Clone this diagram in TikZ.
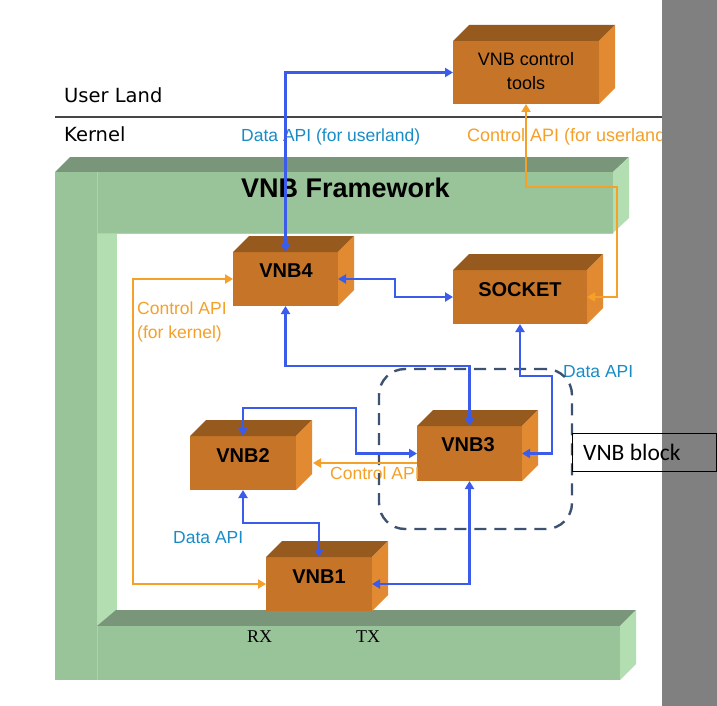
\documentclass[tikz,border=0pt]{standalone}
\usepackage{fontspec}
\setmainfont{Liberation Sans}
\newfontfamily\djfont{DejaVu Sans}
\newfontfamily\crfont{Carlito}
\newfontfamily\lsfont{Liberation Serif}
\usetikzlibrary{arrows.meta,calc}
\definecolor{gfront}{RGB}{153,195,153}
\definecolor{gtop}{RGB}{122,150,122}
\definecolor{gside}{RGB}{178,222,178}
\definecolor{gline}{RGB}{172,212,172}
\definecolor{ofront}{RGB}{198,117,40}
\definecolor{otop}{RGB}{150,90,30}
\definecolor{oside}{RGB}{226,138,50}
\definecolor{lblue}{RGB}{59,92,235}
\definecolor{tblue}{RGB}{25,140,200}
\definecolor{lorange}{RGB}{245,160,40}
\definecolor{dashc}{RGB}{60,82,112}
\definecolor{sepc}{RGB}{70,70,70}
\definecolor{grayc}{RGB}{128,128,128}
\newcommand\boxthreed[2]{%
  \fill[otop] (#1.north west) -- ++(#2,-#2) -- ($(#1.north east)+(#2,-#2)$) -- (#1.north east) -- cycle;
  \fill[oside] (#1.north east) -- ++(#2,-#2) -- ($(#1.south east)+(#2,-#2)$) -- (#1.south east) -- cycle;
}
\tikzset{
  obox/.style={fill=ofront, draw=none, inner sep=0pt, outer sep=0pt},
  boxlbl/.style={font=\fontsize{20}{24}\selectfont\bfseries, anchor=base, inner sep=0pt},
  apilbl/.style={font=\fontsize{17.5}{22}\selectfont, inner sep=0pt, anchor=base west},
  toollbl/.style={font=\fontsize{18}{22}\selectfont, inner sep=0pt, anchor=base},
  bl/.style={draw=lblue, line width=2.7pt, {Triangle[length=8pt,width=9pt]}-{Triangle[length=8pt,width=9pt]}},
  orl/.style={draw=lorange, line width=2.5pt, {Triangle[length=8pt,width=9pt]}-{Triangle[length=8pt,width=9pt]}},
  orone/.style={draw=lorange, line width=2.5pt, -{Triangle[length=8pt,width=9pt]}},
}
\begin{document}
\begin{tikzpicture}[x=1pt,y=-1pt]
\useasboundingbox (0,0) rectangle (717,706);
\fill[white] (0,0) rectangle (717,706);
% green framework
\fill[gtop] (55,172) -- (70,157) -- (629,157) -- (613,172) -- cycle;
\fill[gfront] (55,172) rectangle (97,680);
\fill[gfront] (97,172) rectangle (613,233);
\fill[gside] (613,172) -- (629,157) -- (629,218) -- (613,233) -- cycle;
\fill[gside] (97,233) rectangle (117,626);
\fill[gtop] (97,626) -- (116,610) -- (636,610) -- (620,626) -- cycle;
\fill[gfront] (97,626) rectangle (620,680);
\fill[gside] (620,626) -- (636,610) -- (636,664) -- (620,680) -- cycle;
\draw[gline, line width=0.8pt] (97,172) -- (97,233) -- (613,233);
\draw[gline, line width=0.8pt] (97,626) -- (97,680);
% separator
\draw[sepc, line width=1.5pt] (55,117) -- (662,117);
% texts
\node[font=\djfont\fontsize{19.5}{23}\selectfont, anchor=base west, inner sep=0pt] (user) at (64,103) {User Land};
\node[font=\djfont\fontsize{19.5}{23}\selectfont, anchor=base west, inner sep=0pt] (kern) at (64,141) {Kernel};
\node[apilbl, text=tblue] (dapiu) at (241,141) {Data API (for userland)};
\node[apilbl, text=lorange, font=\fontsize{18}{22}\selectfont] (capiu) at (467,141) {Control API (for userland)};
\node[font=\fontsize{27}{32}\selectfont\bfseries, anchor=base west, inner sep=0pt] (fw) at (241,197) {VNB Framework};
% boxes
\node[obox, minimum width=146pt, minimum height=63pt] (ctl) at (526,72.5) {};
\boxthreed{ctl}{16}
\node[toollbl] (ctla) at (526,66) {VNB control};
\node[toollbl] (ctlb) at (526,90) {tools};
\node[obox, minimum width=105pt, minimum height=54pt] (vnb4) at (285.5,279) {};
\boxthreed{vnb4}{16}
\node[boxlbl] (l4) at (286,277) {VNB4};
\node[obox, minimum width=134pt, minimum height=54pt] (sock) at (520,297) {};
\boxthreed{sock}{16}
\node[boxlbl] (ls) at (520,296) {SOCKET};
\node[obox, minimum width=105pt, minimum height=55pt] (vnb3) at (469.5,453.5) {};
\boxthreed{vnb3}{16}
\node[boxlbl] (l3) at (468,451) {VNB3};
\node[obox, minimum width=106pt, minimum height=54pt] (vnb2) at (243,463) {};
\boxthreed{vnb2}{16}
\node[boxlbl] (l2) at (243,462) {VNB2};
\node[obox, minimum width=106pt, minimum height=54pt] (vnb1) at (319,584) {};
\boxthreed{vnb1}{16}
\node[boxlbl] (l1) at (319,583) {VNB1};
% RX / TX
\node[font=\lsfont\fontsize{18}{22}\selectfont, anchor=base west, inner sep=0pt] (rx) at (247,642) {RX};
\node[font=\lsfont\fontsize{18}{22}\selectfont, anchor=base west, inner sep=0pt] (tx) at (356,642) {TX};
% labels
\node[apilbl, text=lorange] (capik1) at (137,314) {Control API};
\node[apilbl, text=lorange] (capik2) at (137,338) {(for kernel)};
\node[apilbl, text=lorange] (capim) at (330,479) {Control API};
\node[apilbl, text=tblue] (dapir) at (563,377) {Data API};
\node[apilbl, text=tblue] (dapil) at (173,543) {Data API};
% dashed VNB block
\node[draw=dashc, line width=2.4pt, dash pattern=on 12pt off 8pt, rounded corners=26pt, minimum width=193pt, minimum height=160pt, inner sep=0pt] (blk) at (475.5,449) {};
% connectors
\draw[bl] (vnb4.north) |- (ctl.west);
\draw[bl] (vnb4.east) -- ++(57,0) |- (sock.west);
\draw[bl] (vnb4.south) -- ++(0,60) -| (vnb3.north);
\draw[bl] (sock.south) -- ++(0,52) -| ($(vnb3.east)+(30,0)$) -- (vnb3.east);
\draw[bl] (vnb2.north) -- ++(0,-28) -| ($(vnb3.west)+(-61,0)$) -- (vnb3.west);
\draw[bl] (vnb2.south) -- ++(0,33) -| (vnb1.north);
\draw[bl] (vnb3.south) |- (vnb1.east);
\draw[orl] (vnb4.west) -- ++(-100,0) |- (vnb1.west);
\draw[orl] (ctl.south) |- (617,187) |- (sock.east);
\draw[orone] (vnb3.west |- vnb2.east) -- ($(vnb2.east)+(17,0)$);
% gray strip
\fill[grayc] (662,0) rectangle (717,706);
% VNB block label
\node[draw=black, line width=1pt, minimum width=144pt, minimum height=38pt, inner sep=0pt] (blkbox) at (644,452) {};
\node[font=\crfont\fontsize{23.5}{28}\selectfont, anchor=base west, inner sep=0pt] (blklbl) at (583,460) {VNB block};
\end{tikzpicture}
\end{document}
